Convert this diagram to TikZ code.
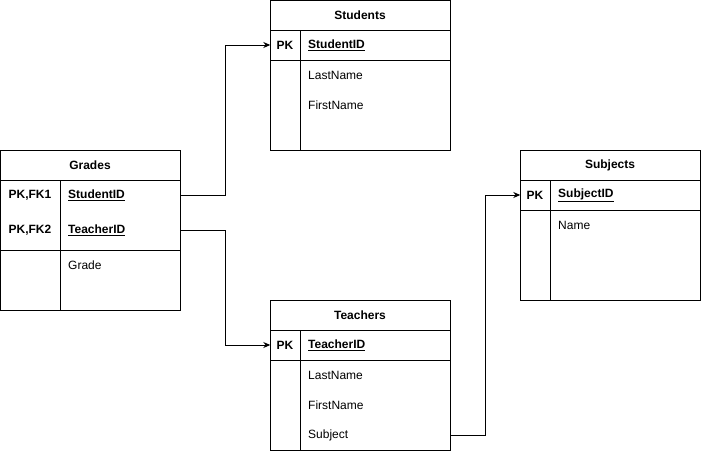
\documentclass[tikz,border=0pt]{standalone}
\usepackage{fontspec}
\setmainfont{Liberation Sans}
\usetikzlibrary{arrows.meta}
\begin{document}
\begin{tikzpicture}[x=1pt,y=-1pt,
  tbl/.style={draw=black,line width=1pt},
  hdr/.style={inner sep=0pt,font=\fontsize{12}{14}\selectfont\bfseries},
  pk/.style={inner sep=0pt,font=\fontsize{12}{14}\selectfont\bfseries},
  fld/.style={inner sep=0pt,anchor=west,font=\fontsize{12}{14}\selectfont},
  key/.style={inner sep=0pt,anchor=west,font=\fontsize{12}{14}\selectfont\bfseries},
  rowbox/.style={inner sep=0pt,minimum width=180pt,minimum height=30pt},
  conn/.style={draw=black,line width=1pt,-{Stealth[length=7pt,width=6pt]}}]
\useasboundingbox (0,0) rectangle (701,451);

% ---------- Students ----------
\draw[tbl] (270.5,0.5) rectangle (450.5,150.5);
\draw[tbl] (270.5,30.5) -- (450.5,30.5);
\draw[tbl] (270.5,60.5) -- (450.5,60.5);
\draw[tbl] (300.5,30.5) -- (300.5,150.5);
\node[hdr] (sT) at (360,15) {Students};
\node[rowbox] (sPK) at (360,45) {};
\node[pk] (sPKl) at (285,45) {PK};
\node[key] (sId) at (308,45) {\underline{StudentID}};
\node[fld] (sLn) at (308,75) {LastName};
\node[fld] (sFn) at (308,105) {FirstName};

% ---------- Grades ----------
\draw[tbl] (0.5,150.5) rectangle (180.5,310.5);
\draw[tbl] (0.5,180.5) -- (180.5,180.5);
\draw[tbl] (0.5,250.5) -- (180.5,250.5);
\draw[tbl] (60.5,180.5) -- (60.5,310.5);
\node[hdr] (gT) at (90,165) {Grades};
\node[rowbox] (gS) at (90,195) {};
\node[rowbox] (gTe) at (90,230) {};
\node[pk] (gPK1) at (30,195) {PK,FK1};
\node[pk] (gPK2) at (30,230) {PK,FK2};
\node[key] (gSid) at (68,195) {\underline{StudentID}};
\node[key] (gTid) at (68,230) {\underline{TeacherID}};
\node[fld] (gGr) at (68,265) {Grade};

% ---------- Subjects ----------
\draw[tbl] (520.5,150.5) rectangle (700.5,300.5);
\draw[tbl] (520.5,180.5) -- (700.5,180.5);
\draw[tbl] (520.5,210.5) -- (700.5,210.5);
\draw[tbl] (550.5,180.5) -- (550.5,300.5);
\node[hdr] (suT) at (610,165) {Subjects};
\node[rowbox] (suPK) at (610,195) {};
\node[pk] (suPKl) at (535,195) {PK};
\node[key] (suId) at (558,195) {\underline{SubjectID}};
\node[fld] (suNm) at (558,225) {Name};

% ---------- Teachers ----------
\draw[tbl] (270.5,300.5) rectangle (450.5,450.5);
\draw[tbl] (270.5,330.5) -- (450.5,330.5);
\draw[tbl] (270.5,360.5) -- (450.5,360.5);
\draw[tbl] (300.5,330.5) -- (300.5,450.5);
\node[hdr] (tT) at (360,315) {Teachers};
\node[rowbox] (tPK) at (360,345) {};
\node[rowbox] (tSub) at (360,435) {};
\node[pk] (tPKl) at (285,345) {PK};
\node[key] (tId) at (308,345) {\underline{TeacherID}};
\node[fld] (tLn) at (308,375) {LastName};
\node[fld] (tFn) at (308,405) {FirstName};
\node[fld] (tSu) at (308,435) {Subject};

% ---------- Connectors ----------
\draw[conn] ([xshift=0.5pt]gS.east) -- ++(45,0) |- ([xshift=0.5pt]sPK.west);
\draw[conn] ([xshift=0.5pt]gTe.east) -- ++(45,0) |- ([xshift=0.5pt]tPK.west);
\draw[conn] ([xshift=0.5pt]tSub.east) -- ++(35,0) |- ([xshift=0.5pt]suPK.west);
\end{tikzpicture}
\end{document}
